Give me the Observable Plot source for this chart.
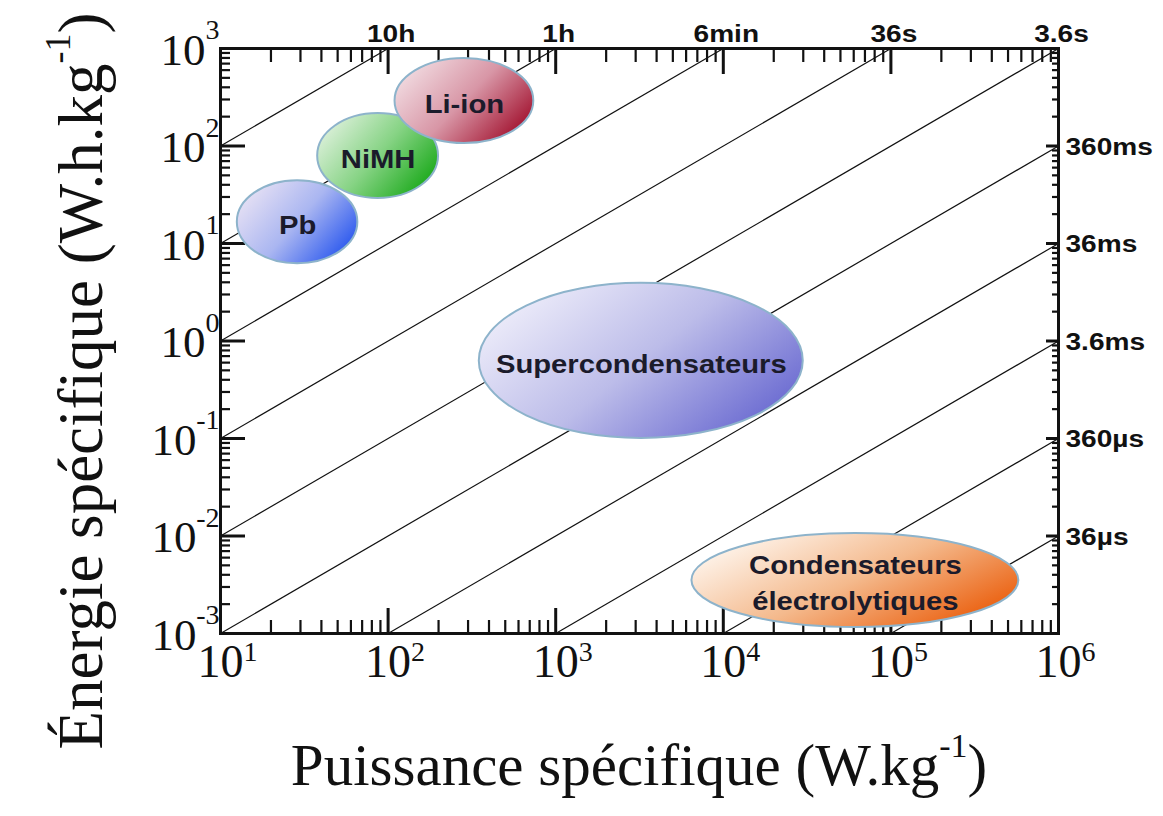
<!DOCTYPE html>
<html>
<head>
<meta charset="utf-8">
<script src="https://cdn.jsdelivr.net/npm/d3@7"></script>
<script src="https://cdn.jsdelivr.net/npm/@observablehq/plot@0.6"></script>
<style>
  html, body { margin: 0; padding: 0; background: #fff; }
</style>
</head>
<body>
<div id="chart"></div>
<script>
// ---------- data ----------
const technologies = ["Pb", "NiMH", "Li-ion", "Supercondensateurs", "Condensateurs\nélectrolytiques"];
const powerMin  = [12.6, 38, 110, 350, 6500];        // W/kg
const powerMax  = [66, 200, 740, 30000, 580000];     // W/kg
const energyMin = [6.2, 29, 106, 0.1, 0.00115];      // Wh/kg
const energyMax = [44, 215, 790, 3.9, 0.0106];       // Wh/kg
const colorLight = ["#ebe4f4", "#e2f2e0", "#f3e0e5", "#f1f0fb", "#fff9f3"];
const colorMid   = ["#aab6f1", "#86d384", "#d896a6", "#bcbce9", "#f4b98c"];
const colorDark  = ["#2050ee", "#12a612", "#9e0826", "#6464cf", "#ea5804"];

const powerDecades  = [1e1, 1e2, 1e3, 1e4, 1e5, 1e6];
const powerExp      = ["1", "2", "3", "4", "5", "6"];
const energyDecades = [1e-3, 1e-2, 1e-1, 1e0, 1e1, 1e2, 1e3];
const energyExp     = ["-3", "-2", "-1", "0", "1", "2", "3"];
const minorSteps    = [2, 3, 4, 5, 6, 7, 8, 9];

const timeTopLabels   = ["10h", "1h", "6min", "36s", "3.6s"];
const timeTopPower    = [1e2, 1e3, 1e4, 1e5, 1e6];
const timeRightLabels = ["360ms", "36ms", "3.6ms", "360µs", "36µs"];
const timeRightEnergy = [1e2, 1e1, 1e0, 1e-1, 1e-2];

// iso-time lines (endpoints on the frame)
const isoStartPower  = [10, 10, 10, 10, 10, 10, 1e2, 1e3, 1e4, 1e5];
const isoStartEnergy = [1e2, 1e1, 1e0, 1e-1, 1e-2, 1e-3, 1e-3, 1e-3, 1e-3, 1e-3];
const isoEndPower    = [1e2, 1e3, 1e4, 1e5, 1e6, 1e6, 1e6, 1e6, 1e6, 1e6];
const isoEndEnergy   = [1e3, 1e3, 1e3, 1e3, 1e3, 1e2, 1e1, 1e0, 1e-1, 1e-2];

// ---------- helpers ----------
const SERIF = "Liberation Serif";
const SANS = "Liberation Sans";
const powerMinor = powerDecades.slice(0, -1).flatMap(d => minorSteps.map(m => d * m));
const energyMinor = energyDecades.slice(0, -1).flatMap(d => minorSteps.map(m => d * m));
const idx = d3.range(technologies.length);
const isoIdx = d3.range(isoStartPower.length);

function ellipses(index, scales, values, dimensions) {
  const {x, y} = scales;
  const g = d3.create("svg:g");
  const defs = g.append("defs");
  idx.forEach(i => {
    const id = "grad-" + i;
    const lg = defs.append("linearGradient").attr("id", id)
      .attr("x1", 0).attr("y1", 0.2).attr("x2", 1).attr("y2", 0.8);
    lg.append("stop").attr("offset", 0).attr("stop-color", colorLight[i]);
    lg.append("stop").attr("offset", 0.5).attr("stop-color", colorMid[i]);
    lg.append("stop").attr("offset", 1).attr("stop-color", colorDark[i]);
    const x0 = x(powerMin[i]), x1 = x(powerMax[i]);
    const y0 = y(energyMin[i]), y1 = y(energyMax[i]);
    g.append("ellipse")
      .attr("cx", (x0 + x1) / 2).attr("cy", (y0 + y1) / 2)
      .attr("rx", Math.abs(x1 - x0) / 2).attr("ry", Math.abs(y1 - y0) / 2)
      .attr("fill", `url(#${id})`)
      .attr("stroke", "#8db3cb").attr("stroke-width", 2);
  });
  return g.node();
}

function titles(index, scales, values, dims) {
  const g = d3.create("svg:g").attr("font-family", SERIF).attr("fill", "#111");
  const bt = g.append("text")
    .attr("x", 639).attr("y", dims.height - 31)
    .attr("text-anchor", "middle").attr("font-size", 59);
  bt.append("tspan").text("Puissance spécifique (W.kg");
  bt.append("tspan").attr("font-size", 34).attr("dy", -28).text("-1");
  bt.append("tspan").attr("dy", 28).text(")");
  const lt = g.append("text")
    .attr("transform", "translate(102,381) rotate(-90)")
    .attr("text-anchor", "middle").attr("font-size", 63);
  lt.append("tspan").text("Énergie spécifique (W.h.kg");
  lt.append("tspan").attr("font-size", 36).attr("dy", -32).text("-1");
  lt.append("tspan").attr("dy", 32).text(")");
  return g.node();
}

const noText = () => "";

const chart = Plot.plot({
  width: 1163,
  height: 816,
  marginLeft: 220,
  marginRight: 105,
  marginTop: 48,
  marginBottom: 183,
  style: {background: "#fff", color: "#111"},
  x: {type: "log", domain: [1e1, 1e6], axis: null},
  y: {type: "log", domain: [1e-3, 1e3], axis: null},
  marks: [
    // iso-time lines
    Plot.link(isoIdx, {
      x1: i => isoStartPower[i], y1: i => isoStartEnergy[i],
      x2: i => isoEndPower[i], y2: i => isoEndEnergy[i],
      stroke: "#111", strokeWidth: 1.2
    }),
    // ticks (inward)
    Plot.axisX(powerDecades, {anchor: "bottom", tickSize: -25, tickFormat: noText, label: null, strokeWidth: 3}),
    Plot.axisX(powerMinor, {anchor: "bottom", tickSize: -13, tickFormat: noText, label: null, strokeWidth: 2.2}),
    Plot.axisX(powerDecades, {anchor: "top", tickSize: -25, tickFormat: noText, label: null, strokeWidth: 3}),
    Plot.axisX(powerMinor, {anchor: "top", tickSize: -13, tickFormat: noText, label: null, strokeWidth: 2.2}),
    Plot.axisY(energyDecades, {anchor: "left", tickSize: -25, tickFormat: noText, label: null, strokeWidth: 3}),
    Plot.axisY(energyMinor, {anchor: "left", tickSize: -10, tickFormat: noText, label: null, strokeWidth: 2.2}),
    Plot.axisY(energyDecades, {anchor: "right", tickSize: -13, tickFormat: noText, label: null, strokeWidth: 3}),
    Plot.axisY(energyMinor, {anchor: "right", tickSize: -7, tickFormat: noText, label: null, strokeWidth: 2.2}),
    // technology ellipses
    ellipses,
    Plot.text(idx, {
      x: i => Math.sqrt(powerMin[i] * powerMax[i]),
      y: i => Math.sqrt(energyMin[i] * energyMax[i]),
      text: i => technologies[i],
      fontFamily: SANS, fontWeight: "bold", fontSize: 25,
      lineHeight: 1.45, fill: "#1b1b2b"
    }),
    Plot.frame({stroke: "#111", strokeWidth: 3}),
    // bottom tick labels 10^n
    Plot.text(powerDecades, {x: d => d, text: () => "10", frameAnchor: "bottom", dy: 43,
      fontFamily: SERIF, fontSize: 46, fill: "#111"}),
    Plot.text(powerDecades, {x: d => d, text: (d, i) => powerExp[i], frameAnchor: "bottom", dy: 27, dx: 23,
      textAnchor: "start", fontFamily: SERIF, fontSize: 28, fill: "#111"}),
    // left tick labels 10^n
    Plot.text(energyDecades, {y: d => d, text: () => "10", filter: d => d >= 1, frameAnchor: "left",
      textAnchor: "end", dx: -15, dy: 2, fontFamily: SERIF, fontSize: 45, fill: "#111"}),
    Plot.text(energyDecades, {y: d => d, text: () => "10", filter: d => d < 1, frameAnchor: "left",
      textAnchor: "end", dx: -24, dy: 2, fontFamily: SERIF, fontSize: 45, fill: "#111"}),
    Plot.text(energyDecades, {y: d => d, text: (d, i) => energyExp[i], frameAnchor: "left",
      textAnchor: "end", dx: -1, dy: -18, fontFamily: SERIF, fontSize: 28, fill: "#111"}),
    // time labels
    Plot.text(timeTopLabels, {x: (d, i) => timeTopPower[i], frameAnchor: "top", dy: -24, dx: 3,
      fontFamily: SANS, fontWeight: "bold", fontSize: 24, fill: "#111"}),
    Plot.text(timeRightLabels, {y: (d, i) => timeRightEnergy[i], frameAnchor: "right", textAnchor: "start",
      dx: 7, dy: 1, fontFamily: SANS, fontWeight: "bold", fontSize: 24, fill: "#111"}),
    titles
  ]
});

// horizontal stretch of the sans-serif labels as in the original picture
d3.select(chart).selectAll(`g[font-family="${SANS}"] text`).attr("transform", function () {
  return (this.getAttribute("transform") || "") + " scale(1.17,1)";
});

document.getElementById("chart").appendChild(chart);
</script>
</body>
</html>
